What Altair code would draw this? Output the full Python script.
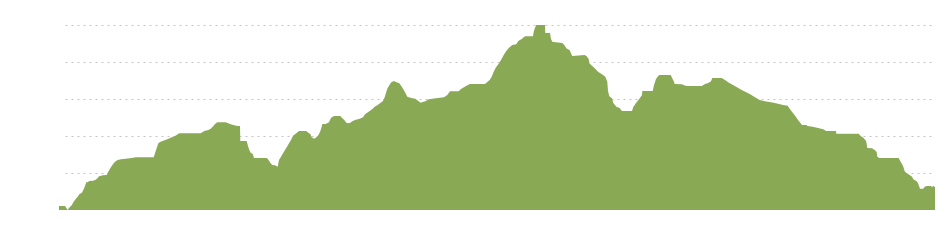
import altair as alt
import pandas as pd

# distance along the route (arbitrary units) and elevation (chart units, grid every 37)
distance = [0, 6, 8.7, 10, 12.7, 14.7, 16.7, 18.7, 20.7, 22.7, 24.7, 26, 27.3, 29.3, 30, 34, 36.7, 38.7, 40, 44,
            47.7, 48.7, 50.7, 52.7, 54.7, 56.7, 58.7, 62, 71, 77, 94.7, 96, 97.3, 99.3, 101, 104.3, 108.3, 111.7, 116, 120.3,
            141.7, 145.3, 149.3, 151.7, 153.7, 156, 158.3, 166.7, 171, 174.3, 178.3, 181, 181.3, 187.7, 189, 190.3, 191.7, 193.7, 195, 207.7,
            209, 211.3, 213.3, 216, 218.7, 220, 222, 224, 226, 228, 230, 232, 234, 237.3, 240, 247.3, 249.3, 251.3, 252.7, 255.3,
            257.3, 259.3, 261.3, 262.7, 263.3, 266.7, 270, 271.3, 272.7, 275.3, 281.3, 283.3, 285.3, 287.3, 289.3, 291.3, 293.3, 296, 300.7, 304,
            306, 309.3, 313.7, 315.7, 318.3, 321, 323.7, 325.7, 327, 328.3, 330.3, 332.3, 335, 337, 340.3, 342.3, 344.3, 346.3, 348.3, 352.3,
            356.3, 359, 361.7, 363.7, 366.3, 369.7, 377, 385, 388.3, 391, 399.7, 401.7, 403.7, 407, 411, 426, 428, 430.7, 432.7, 434.7,
            436.7, 439.3, 442, 444.7, 447.3, 450, 453.3, 457.3, 459.3, 462.7, 466, 474, 474.7, 476, 477.3, 486, 486.3, 491, 492, 493.3,
            496.7, 503.3, 505.3, 507.3, 510.7, 512.7, 513.3, 525.7, 527.7, 529.7, 530.3, 533, 535.7, 539, 543, 546.3, 548.3, 549, 550.3, 553,
            554.3, 557.7, 560.3, 563, 573, 574.3, 577, 579.7, 583, 583.3, 593.7, 595, 597, 599, 600.3, 611.7, 613, 615, 615.7, 622.7,
            627.3, 642.7, 646, 649.3, 652, 653.3, 662.7, 666, 670, 674, 678, 682.7, 687.3, 692, 696, 700.7, 706, 714.7, 720, 724,
            728.7, 731, 733.7, 736.3, 739, 741.7, 743, 747.7, 748.3, 753.7, 759, 764.3, 767, 777, 777.3, 799.7, 801.7, 804.3, 807, 807.7,
            808.3, 813, 815.7, 817.7, 818.3, 820.3, 839.7, 841, 843, 844.3, 845.7, 847.7, 850.3, 853, 854.3, 857.7, 859, 860.3, 861, 864.3,
            865.7, 867.7, 871.7, 873, 874.3, 876]
elevation = [4, 4, 0, 2, 4.7, 8.3, 11, 13.3, 16.3, 17, 20.7, 24, 27.7, 28, 29, 29.3, 30.3, 32, 33.7, 34.7,
             35, 37.3, 40.7, 44, 46.7, 48.7, 50, 50.7, 51.7, 52.7, 52.7, 56.7, 60.7, 66.7, 68, 69.3, 70.7, 72.3, 74, 76.7,
             76.7, 79, 80, 81.3, 83.3, 86, 87.7, 87.7, 86, 85, 84, 84, 69, 69, 64, 60, 57.3, 56, 52, 52,
             50.7, 47.3, 45, 44.7, 43.3, 50, 53.3, 56.7, 60, 63.3, 66.7, 70, 74.3, 76.7, 79, 79, 77.3, 76, 72.7, 71.3,
             72.7, 74.7, 78.7, 83.3, 86, 86, 87.7, 90.7, 92.7, 94, 94, 91.7, 90, 87.3, 86.7, 87.3, 88.7, 90, 91.3, 92.7,
             95.7, 98, 101.3, 103.3, 104.7, 106.7, 108.7, 112.7, 117.3, 121.3, 124.7, 127.7, 129, 128, 126.7, 124, 120.7, 117.3, 113.3, 112,
             111.3, 109.3, 107.3, 108, 108.7, 110.7, 111.7, 112.7, 115, 118.7, 118.7, 120.7, 122, 124, 126, 126, 127.7, 130, 133.3, 138.3,
             142.3, 145.7, 150, 155, 159, 162.3, 165, 165.7, 169, 171, 173.7, 173.7, 178.3, 182.3, 185, 185, 177, 177, 171, 168.3,
             167.7, 167, 165, 161.7, 159.7, 155, 154, 155, 153.7, 151, 146.7, 144.3, 141.7, 138.3, 135.7, 133.3, 128.3, 119, 113.7, 111.7,
             107, 103, 102.3, 99, 99, 103, 107, 110.3, 115, 119, 119, 125, 131, 133.7, 135, 135, 132.3, 128.3, 126, 125.7,
             124, 124, 126, 127, 128.7, 132, 132, 130, 127.3, 125, 122.7, 120, 117.7, 115.3, 112.7, 110, 108.7, 107.3, 106, 105,
             104.3, 100.7, 97.3, 94, 90, 86.7, 85, 85, 84, 83.3, 82, 80.7, 79, 79, 76.3, 76.3, 74, 72.3, 69.3, 66,
             62, 61.7, 60, 58, 53.3, 52, 52, 49.3, 46, 43.3, 38.7, 36.7, 35.3, 33.3, 30.7, 28.7, 26.7, 23.3, 21.3, 21.3,
             23.3, 24, 24, 23, 24, 23]
grid_values = [37, 74, 111, 148, 185]

df = pd.DataFrame({"distance": distance, "elevation": elevation})

chart = alt.Chart(df).mark_area(
    color="#8aa955", opacity=1, interpolate="linear", clip=False
).encode(
    x=alt.X("distance:Q", scale=alt.Scale(domain=[6, 872], nice=False, zero=False), axis=None),
    y=alt.Y("elevation:Q", scale=alt.Scale(domain=[0, 185], nice=False),
            axis=alt.Axis(values=grid_values, grid=True, gridColor="#c4c4c4", gridDash=[2, 4],
                          gridWidth=1, labels=False, ticks=False, domain=False, title=None)),
).properties(
    width=866, height=185,
    autosize=alt.AutoSizeParams(type="none"),
    padding={"left": 65, "top": 25, "right": 19, "bottom": 40},
    background="white",
).configure_view(stroke=None)

chart.save("out.html", embed_options={"renderer": "svg", "actions": False})
